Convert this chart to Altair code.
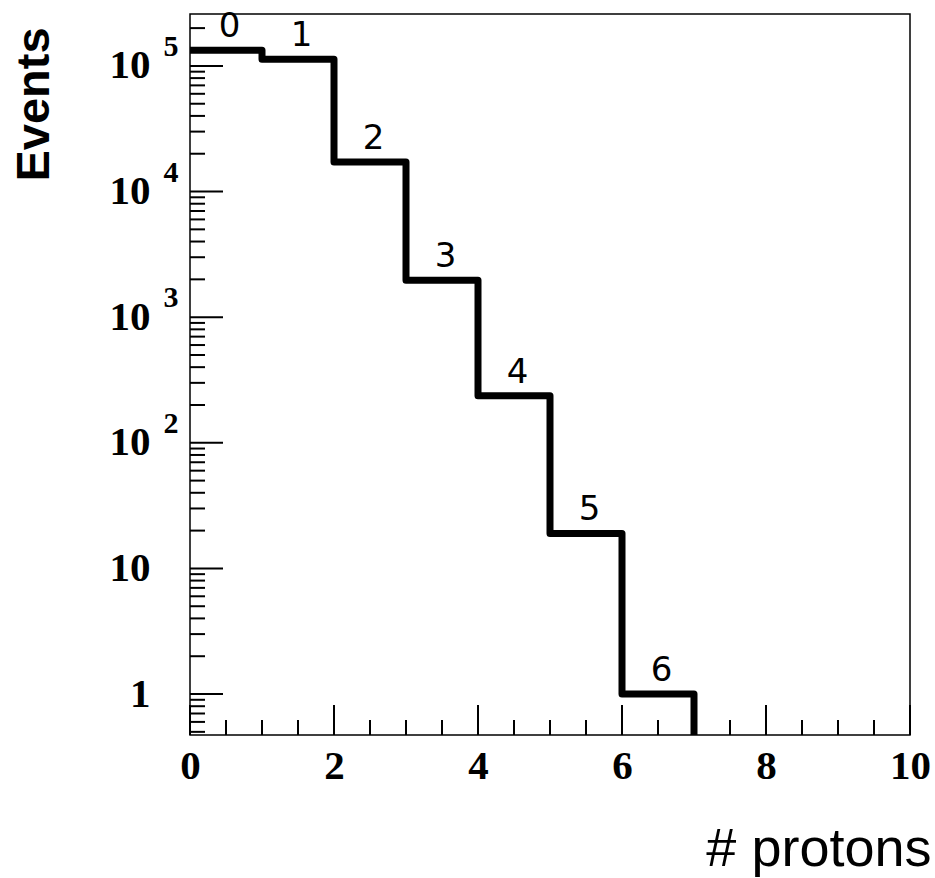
import altair as alt
import pandas as pd

# ---- data ----
bins = [0, 1, 2, 3, 4, 5, 6]                       # number of protons
counts = [1.33e5, 1.13e5, 1.72e4, 1.97e3, 237, 19, 1.0]  # events per bin
bin_labels = ["0", "1", "2", "3", "4", "5", "6"]   # hand-written annotations
x_label_values = [0, 2, 4, 6, 8, 10]
y_decades = [1, 10, 100, 1000, 10000, 100000]
y_exponents = ["", "", "2", "3", "4", "5"]
x_domain = [0, 10]
y_domain = [0.472, 2.59e5]

W, H = 720, 721

xs = alt.Scale(domain=x_domain, nice=False, zero=False)
ys = alt.Scale(type="log", domain=y_domain, nice=False)

serif = "Liberation Serif"
sans = "Liberation Sans"

x_axis = alt.Axis(
    values=x_label_values, format="d", ticks=False, domain=False, grid=False,
    labelFont=serif, labelFontWeight="bold", labelFontSize=41, labelColor="black",
    labelPadding=11, labelFlush=False, labelOverlap=False, labelBound=False,
    title="# protons", titleFont=sans, titleFontSize=54, titleFontWeight="normal",
    titleColor="black", titleAlign="right", titleBaseline="alphabetic",
    titleX=741, titleY=130)
y_axis = alt.Axis(
    values=y_decades, labelExpr="datum.value == 1 ? '1' : '10'",
    ticks=False, domain=False, grid=False,
    labelFont=serif, labelFontWeight="bold", labelFontSize=41, labelColor="black",
    labelPadding=40, labelFlush=False, labelOverlap=False, labelBound=False,
    title="Events", titleFont=sans, titleFontSize=47, titleFontWeight="bold",
    titleColor="black", titleAngle=270, titleAlign="center",
    titleBaseline="alphabetic", titleX=-142, titleY=90)

# step outline: after the last filled bin the histogram drops to the axis floor
step_df = pd.DataFrame({"x": bins + [bins[-1] + 1], "y": counts + [y_domain[0]]})
lab_df = pd.DataFrame({"bin": bins, "count": counts, "label": bin_labels})
dec_df = pd.DataFrame({"v": y_decades, "e": y_exponents})

# tick positions (axis decoration)
y_major = [d for d in [0.1] + y_decades + [1e6] if y_domain[0] <= d <= y_domain[1]]
y_minor = []
for d in [0.1] + y_decades:
    for k in range(2, 10):
        v = k * d
        if y_domain[0] <= v <= y_domain[1]:
            y_minor.append(v)
x_major = [v for v in x_label_values]
x_minor = [i * 0.5 for i in range(0, 21) if (i * 0.5) not in x_major]

step = alt.Chart(step_df).mark_line(
    interpolate="step-after", color="black", strokeWidth=7,
    strokeJoin="round", clip=True
).encode(
    x=alt.X("x:Q", scale=xs, axis=x_axis),
    y=alt.Y("y:Q", scale=ys, axis=y_axis),
)

labels = alt.Chart(lab_df).transform_calculate(
    xl="datum.bin + 0.55"
).mark_text(
    font="DejaVu Sans", fontSize=34, color="black", dy=-23, baseline="middle"
).encode(
    x=alt.X("xl:Q", scale=xs, axis=x_axis),
    y=alt.Y("count:Q", scale=ys, axis=y_axis),
    text="label:N",
)

exps = alt.Chart(dec_df).mark_text(
    font=serif, fontWeight="bold", fontSize=30, color="black",
    dy=-19, align="center", baseline="middle"
).encode(
    x=alt.value(-19),
    y=alt.Y("v:Q", scale=ys, axis=y_axis),
    text="e:N",
)

ymaj = alt.Chart(pd.DataFrame({"v": y_major})).mark_rule(color="black", strokeWidth=2).encode(
    y=alt.Y("v:Q", scale=ys, axis=y_axis), x=alt.value(0), x2=alt.value(33))
ymin = alt.Chart(pd.DataFrame({"v": y_minor})).mark_rule(color="black", strokeWidth=2).encode(
    y=alt.Y("v:Q", scale=ys, axis=y_axis), x=alt.value(0), x2=alt.value(15))
xmaj = alt.Chart(pd.DataFrame({"v": x_major})).mark_rule(color="black", strokeWidth=2).encode(
    x=alt.X("v:Q", scale=xs, axis=x_axis), y=alt.value(H), y2=alt.value(H - 30))
xmin = alt.Chart(pd.DataFrame({"v": x_minor})).mark_rule(color="black", strokeWidth=2).encode(
    x=alt.X("v:Q", scale=xs, axis=x_axis), y=alt.value(H), y2=alt.value(H - 15))

chart = alt.layer(step, ymaj, ymin, xmaj, xmin, labels, exps).properties(
    width=W, height=H,
    autosize=alt.AutoSizeParams(type="none"),
    padding={"left": 190, "top": 14, "right": 25, "bottom": 143},
    background="white",
).configure_view(stroke="black", strokeWidth=1.5)

chart.save("out.html", embed_options={"renderer": "svg", "actions": False})
